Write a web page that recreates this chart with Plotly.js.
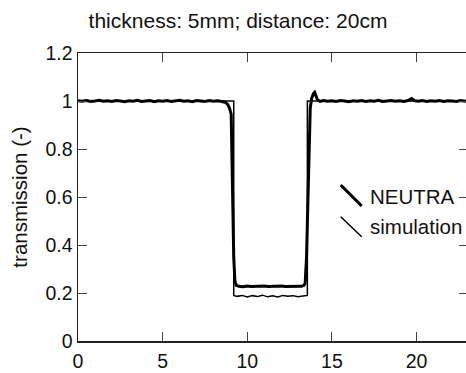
<!DOCTYPE html>
<html>
<head>
<meta charset="utf-8">
<script src="https://cdn.plot.ly/plotly-3.0.1.min.js"></script>
<style>
html,body{margin:0;padding:0;overflow:hidden;background:#fff;}
#chart{width:468px;height:373px;}
</style>
</head>
<body>
<div id="chart"></div>
<script>
// NEUTRA measurement (thick line)
var neutraX = [0,0.25,0.5,0.75,1,1.25,1.5,1.75,2,2.25,2.5,2.75,3,3.25,3.5,3.75,4,4.25,4.5,4.75,5,5.25,5.5,5.75,6,6.25,6.5,6.75,7,7.25,7.5,7.75,8,8.25,8.5,8.7,8.85,8.95,9.05,9.1,9.15,9.2,9.27,9.35,9.5,9.75,10,10.25,10.5,10.75,11,11.25,11.5,11.75,12,12.25,12.5,12.75,13,13.2,13.35,13.42,13.5,13.58,13.65,13.72,13.8,13.9,13.98,14.05,14.15,14.3,14.5,14.75,15,15.25,15.5,15.75,16,16.25,16.5,16.75,17,17.25,17.5,17.75,18,18.25,18.5,18.75,19,19.25,19.5,19.7,19.9,20.1,20.35,20.6,20.85,21.1,21.35,21.6,21.85,22.1,22.35,22.6,22.85,23.1];
var neutraY = [1.001,0.999,1.002,0.998,1.000,1.003,0.999,1.001,0.998,1.002,1.000,0.997,1.001,0.999,1.003,0.998,1.000,1.002,0.997,1.001,0.999,1.002,0.998,1.000,1.003,0.999,1.001,0.997,1.002,1.000,0.998,1.002,0.999,1.001,0.998,0.995,0.985,0.97,0.945,0.80,0.55,0.35,0.25,0.232,0.228,0.226,0.229,0.227,0.228,0.226,0.229,0.227,0.228,0.226,0.229,0.227,0.228,0.226,0.229,0.228,0.232,0.24,0.35,0.6,0.85,0.97,1.01,1.03,1.036,1.025,1.005,0.998,1.002,0.999,1.001,0.998,1.002,1.000,0.997,1.001,0.999,1.002,0.998,1.001,0.999,1.003,0.998,1.000,1.002,0.999,1.001,0.998,1.002,1.010,1.001,0.999,1.002,0.998,1.001,0.999,1.002,0.998,1.001,1.000,0.998,1.002,0.999,1.001];

// simulation (thin line)
var simX = [0,1.5,3,4.5,6,7.5,9.2,9.2,9.4,9.7,10,10.3,10.6,10.9,11.2,11.5,11.8,12.1,12.4,12.7,13,13.3,13.55,13.55,15,16.5,18,19.5,21,23.1];
var simY = [1.0,1.0,1.0,1.0,1.0,1.0,1.0,0.19,0.186,0.19,0.183,0.189,0.185,0.191,0.184,0.188,0.183,0.19,0.186,0.189,0.184,0.188,0.19,1.0,1.0,1.0,1.0,1.0,1.0,1.0];

var xTicks = [0,5,10,15,20];
var yTicks = [0,0.2,0.4,0.6,0.8,1,1.2];
var yTickText = ['0','0.2','0.4','0.6','0.8','1','1.2'];
var seriesNames = ['NEUTRA','simulation'];

var FONT = 'Liberation Sans, Arial, sans-serif';

var traces = [
  {x: simX, y: simY, type:'scatter', mode:'lines', name: seriesNames[1],
   line:{color:'#000', width:1.5}, showlegend:false},
  {x: neutraX, y: neutraY, type:'scatter', mode:'lines', name: seriesNames[0],
   line:{color:'#000', width:3}, showlegend:false}
];

var axisCommon = {
  showline:true, linecolor:'#222', linewidth:1.5, mirror:'ticks',
  ticks:'inside', ticklen:9, tickwidth:1, tickcolor:'#444',
  showgrid:false, zeroline:false,
  tickfont:{family:FONT, size:19.5, color:'#111'}
};

var layout = {
  width:468, height:373,
  margin:{l:78, r:0, t:53, b:32, pad:0},
  paper_bgcolor:'#fff', plot_bgcolor:'#fff',
  title:{text:'thickness: 5mm; distance: 20cm', font:{family:FONT, size:21, color:'#111'},
         xref:'container', x:238/468, xanchor:'center', yref:'container', y:1-21/373, yanchor:'middle'},
  xaxis: Object.assign({}, axisCommon, {range:[0, 23.04], tickvals:xTicks, ticktext:xTicks.map(String), ticklabelstandoff:2}),
  yaxis: Object.assign({}, axisCommon, {range:[0,1.2], tickvals:yTicks, ticktext:yTickText,
         title:{text:'transmission (-)', font:{family:FONT, size:20.5, color:'#111'}}}),
  showlegend:false,
  shapes:[
    {type:'line', xref:'paper', yref:'paper', x0:(340.7-78)/390, y0:(341-185)/288, x1:(361.7-78)/390, y1:(341-206)/288, line:{color:'#000', width:3}},
    {type:'line', xref:'paper', yref:'paper', x0:(340.7-78)/390, y0:(341-216.7)/288, x1:(361.7-78)/390, y1:(341-236.7)/288, line:{color:'#000', width:1.5}}
  ],
  annotations:[
    {text:seriesNames[0], xref:'paper', yref:'paper', x:(368-78)/390, y:(341-196)/288, xanchor:'left', yanchor:'middle', showarrow:false, font:{family:FONT, size:20.5, color:'#111'}},
    {text:seriesNames[1], xref:'paper', yref:'paper', x:(368-78)/390, y:(341-226)/288, xanchor:'left', yanchor:'middle', showarrow:false, font:{family:FONT, size:20.5, color:'#111'}}
  ]
};

Plotly.newPlot('chart', traces, layout, {staticPlot:true, displayModeBar:false});
</script>
</body>
</html>
